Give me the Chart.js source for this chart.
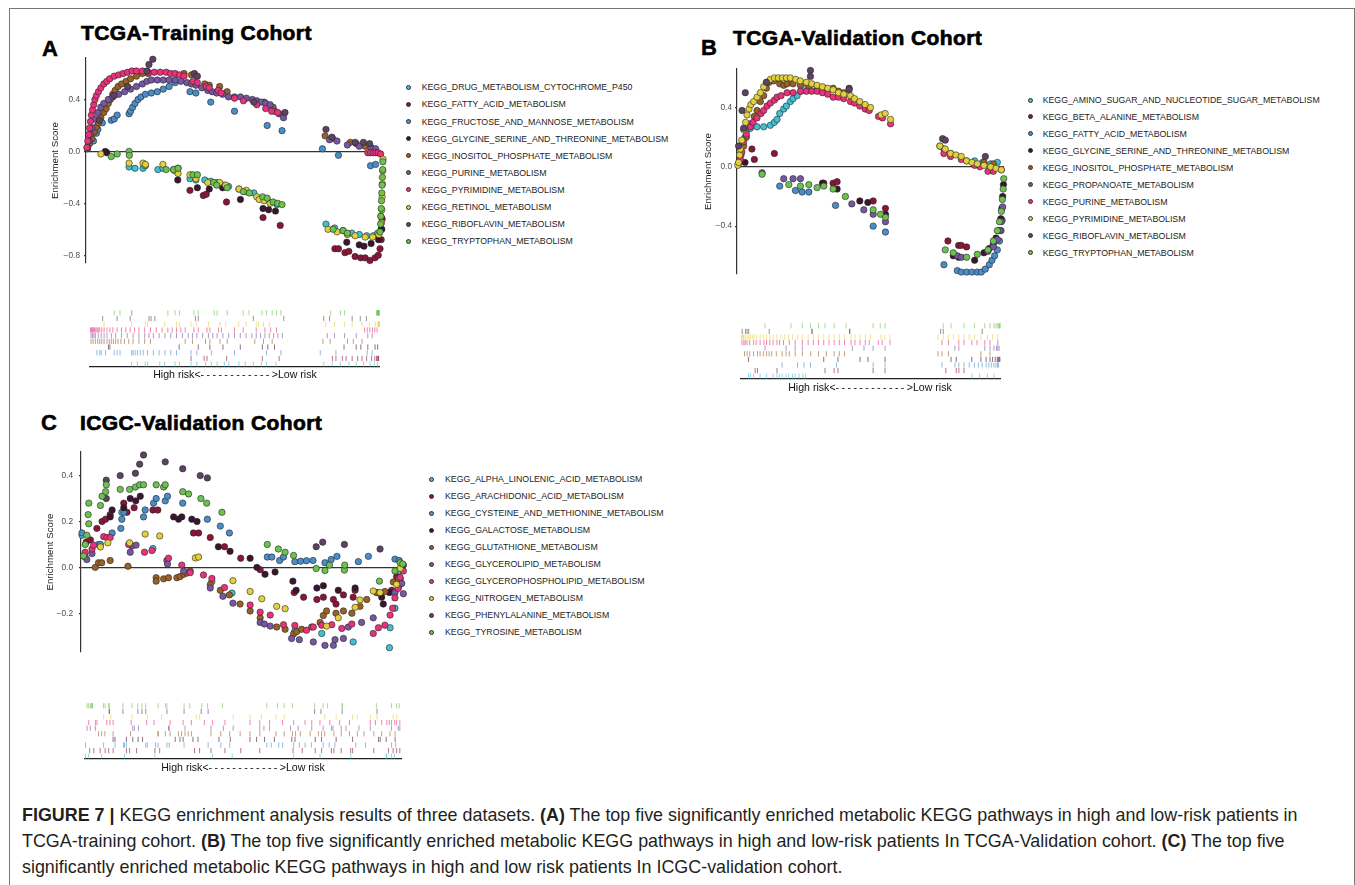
<!DOCTYPE html>
<html>
<head>
<meta charset="utf-8">
<title>Figure 7 - KEGG enrichment</title>
<script src="https://cdn.jsdelivr.net/npm/chart.js@4.4.1/dist/chart.umd.min.js"></script>
<style>
  body { margin: 0; background: #fff; font-family: "Liberation Sans", Arial, sans-serif; }
  #page { position: relative; width: 1355px; height: 885px; overflow: hidden; background: #fff; }
  #frame { position: absolute; left: 9px; top: 8px; width: 1346px; height: 900px; border: 1px solid #777; box-sizing: border-box; }
  canvas { position: absolute; }
  .tag { position: absolute; font-weight: bold; font-size: 22px; line-height: 22px; -webkit-text-stroke: 0.5px #000; }
  .ttl { position: absolute; font-weight: bold; font-size: 21px; line-height: 21px; letter-spacing: 0.4px; -webkit-text-stroke: 0.7px #000; white-space: nowrap; }
  .lg { position: absolute; font-size: 8.75px; line-height: 10px; height: 10px; color: #222; white-space: nowrap; }
  .dot { position: absolute; width: 5px; height: 5px; border-radius: 50%; border: 0.6px solid #333; box-sizing: border-box; }
  .risk { position: absolute; font-size: 10.6px; line-height: 12px; color: #111; white-space: nowrap; transform: translateX(-50%); }
  .risk span { letter-spacing: 2.4px; }
  #cap { position: absolute; left: 22px; top: 802px; font-size: 17.9px; line-height: 26px; color: #231f20; white-space: nowrap; }
</style>
</head>
<body>
<div id="page">
  <div id="frame"></div>

  <div class="tag" style="left:42px; top:38px;">A</div>
  <div class="ttl" style="left:81px; top:22px;">TCGA-Training Cohort</div>
  <canvas id="scA" width="343" height="223" style="left:46px; top:49px;"></canvas>
  <canvas id="rugA" width="297" height="80" style="left:86px; top:305px;"></canvas>
  <div class="risk" style="left:235px; top:368px;">High risk&lt;<span>------------</span>&gt;Low risk</div>
  <div id="legA"></div>

  <div class="tag" style="left:701px; top:37px;">B</div>
  <div class="ttl" style="left:733px; top:27px;">TCGA-Validation Cohort</div>
  <canvas id="scB" width="311" height="221" style="left:699px; top:61px;"></canvas>
  <canvas id="rugB" width="267" height="79" style="left:737px; top:318px;"></canvas>
  <div class="risk" style="left:870px; top:381px;">High risk&lt;<span>------------</span>&gt;Low risk</div>
  <div id="legB"></div>

  <div class="tag" style="left:41px; top:412px;">C</div>
  <div class="ttl" style="left:80px; top:412px;">ICGC-Validation Cohort</div>
  <canvas id="scC" width="370" height="222" style="left:41px; top:441px;"></canvas>
  <canvas id="rugC" width="324" height="79" style="left:81px; top:698px;"></canvas>
  <div class="risk" style="left:243px; top:761px;">High risk&lt;<span>------------</span>&gt;Low risk</div>
  <div id="legC"></div>

  <div id="cap">
    <b>FIGURE 7 |</b> KEGG enrichment analysis results of three datasets. <b>(A)</b> The top five significantly enriched metabolic KEGG pathways in high and low-risk patients in<br>
    TCGA-training cohort. <b>(B)</b> The top five significantly enriched metabolic KEGG pathways in high and low-risk patients In TCGA-Validation cohort. <b>(C)</b> The top five<br>
    significantly enriched metabolic KEGG pathways in high and low risk patients In ICGC-validation cohort.
  </div>
</div>

<script>
// colours shared by all three panels (ggplot order of the pathway names)
const palette = ['#3fc1d3', '#8b1538', '#4a8dc8', '#3a1430', '#9a6127', '#7757a3', '#e93279', '#e2d13c', '#5b4361', '#6bc24d'];

// ---- panel A: TCGA-Training ----
const namesA = ['KEGG_DRUG_METABOLISM_CYTOCHROME_P450', 'KEGG_FATTY_ACID_METABOLISM', 'KEGG_FRUCTOSE_AND_MANNOSE_METABOLISM',
  'KEGG_GLYCINE_SERINE_AND_THREONINE_METABOLISM', 'KEGG_INOSITOL_PHOSPHATE_METABOLISM', 'KEGG_PURINE_METABOLISM',
  'KEGG_PYRIMIDINE_METABOLISM', 'KEGG_RETINOL_METABOLISM', 'KEGG_RIBOFLAVIN_METABOLISM', 'KEGG_TRYPTOPHAN_METABOLISM'];
const ticksA = [0.4, 0.0, -0.4, -0.8];
// running enrichment score, [rank position (0-100), score]
const scoresA = [
  [[14.5,-0.12],[16.5,-0.13],[19.2,-0.13],[20,-0.11],[24.2,-0.14],[25.9,-0.13],[29.5,-0.14],[31,-0.13],[35,-0.21],[37,-0.22],[40,-0.22],[42,-0.23],[44,-0.24],[46.5,-0.26],[48,-0.27],[51.5,-0.29],[53.7,-0.31],[56.5,-0.32],[59.3,-0.36],[61,-0.37],[64.3,-0.41],[80.8,-0.56],[83.7,-0.59],[86.5,-0.61],[89.5,-0.63],[92,-0.64],[94.5,-0.65],[96.8,-0.65],[98.2,-0.63],[99.3,-0.5]],
  [[35,-0.3],[39.5,-0.34],[40.5,-0.33],[47.3,-0.39],[59.6,-0.51],[65.4,-0.57],[83.8,-0.75],[85,-0.75],[87.2,-0.78],[88.5,-0.77],[90.6,-0.81],[92.5,-0.82],[94,-0.82],[95.6,-0.84],[97.3,-0.82],[98.4,-0.8],[99,-0.75],[99.4,-0.68],[99.6,-0.6],[99.7,-0.52]],
  [[2.5,0.08],[3.5,0.14],[4,0.17],[5.5,0.22],[8.5,0.24],[9.5,0.25],[10.5,0.28],[14.5,0.29],[15,0.31],[15.7,0.34],[16.5,0.37],[17.5,0.4],[18.5,0.42],[20,0.44],[22,0.45],[24,0.46],[26,0.48],[28,0.5],[30,0.53],[35,0.46],[37,0.45],[42,0.38],[50,0.31],[61,0.2],[66,0.16],[79.6,0.02],[85,-0.03],[95.8,-0.11],[97.5,-0.1]],
  [[6.5,0.0],[7,-0.01],[30.9,-0.22],[37.5,-0.28],[41.5,-0.29],[46,-0.28],[52,-0.37],[59.6,-0.44],[61.5,-0.45],[63.8,-0.46],[87.8,-0.7],[92,-0.72],[93.6,-0.73],[96,-0.71],[98.5,-0.68],[99.4,-0.6]],
  [[0.5,0.02],[1.2,0.06],[2,0.1],[2.8,0.15],[3.5,0.19],[4.2,0.22],[5,0.26],[6,0.3],[6.8,0.33],[7.5,0.37],[8.2,0.4],[9,0.44],[9.8,0.47],[10.8,0.5],[12,0.52],[13.5,0.54],[15,0.56],[17,0.58],[19,0.6],[21,0.6],[33,0.6],[35.5,0.59],[40,0.52],[41.5,0.51],[45,0.5],[47.5,0.46],[57,0.38],[60,0.38],[63,0.34],[80.5,0.12],[83,0.1],[89,0.07],[91,0.06],[94,0.04]],
  [[0.5,0.03],[1,0.08],[1.5,0.13],[2,0.18],[3,0.25],[4,0.3],[5,0.34],[6,0.37],[7.5,0.4],[9,0.42],[11,0.44],[13,0.46],[15,0.48],[17,0.5],[19,0.52],[20.5,0.54],[22,0.55],[24,0.55],[26,0.55],[28,0.55],[30,0.55],[32,0.54],[34,0.53],[35.5,0.52],[37,0.51],[39,0.49],[41,0.47],[42.5,0.46],[44,0.45],[46,0.44],[48,0.42],[50,0.42],[52,0.42],[54,0.41],[56,0.4],[57.5,0.39],[59,0.38],[60.5,0.37],[62,0.36],[63.5,0.31],[65,0.29],[66.5,0.26],[82,0.09],[84.5,0.08],[88,0.05],[92,0.04],[96,0.03],[97.5,0.02]],
  [[0.3,0.03],[0.6,0.08],[0.9,0.13],[1.2,0.18],[1.5,0.23],[1.8,0.28],[2.2,0.32],[2.6,0.36],[3,0.4],[3.5,0.43],[4.2,0.46],[5,0.49],[6,0.52],[7,0.54],[8,0.56],[9.5,0.58],[11,0.59],[12.5,0.6],[14,0.61],[15.5,0.62],[17,0.62],[19,0.62],[21,0.61],[23,0.61],[25,0.61],[27,0.61],[28.5,0.6],[30,0.6],[31.5,0.59],[33,0.58],[36,0.54],[37.5,0.53],[40.5,0.5],[41.5,0.49],[44.5,0.47],[45.5,0.45],[50,0.41],[53,0.39],[57.5,0.36],[60.5,0.33],[62.5,0.31],[64.5,0.3],[94.9,-0.01],[95.8,-0.01],[96.7,-0.01],[97.6,-0.01],[98.4,-0.01],[99.2,-0.02]],
  [[5,-0.02],[14.5,-0.09],[19.2,-0.09],[20,-0.1],[25.9,-0.1],[30,-0.15],[31,-0.17],[35,-0.18],[37,-0.21],[41,-0.24],[45,-0.24],[47,-0.26],[51.5,-0.29],[54,-0.3],[57.5,-0.35],[58.3,-0.37],[60,-0.38],[62,-0.4],[81.5,-0.6],[84.5,-0.62],[88,-0.64],[90.6,-0.65],[94,-0.66],[96.5,-0.66],[98.6,-0.64],[99.5,-0.55],[99.6,-0.45],[99.7,-0.35],[99.8,-0.25],[99.9,-0.15],[100,-0.06]],
  [[4.5,0.24],[9.5,0.43],[14,0.5],[20.5,0.62],[21.2,0.67],[22.5,0.71],[36.5,0.6],[37.5,0.58],[56.5,0.38],[67,0.3],[80.8,0.17],[82.8,0.11],[90.6,0.07],[93.4,0.07],[95.5,0.06]],
  [[8.5,-0.04],[10.5,-0.02],[14.5,0.0],[14.6,-0.03],[27,-0.14],[29.5,-0.14],[31,-0.13],[36,-0.18],[37.5,-0.18],[43,-0.24],[44,-0.26],[47.5,-0.28],[53,-0.31],[55,-0.32],[59.5,-0.35],[61,-0.36],[63,-0.39],[64.5,-0.4],[66,-0.41],[83.2,-0.6],[86.6,-0.61],[88,-0.63],[99,-0.62],[99.2,-0.56],[99.3,-0.5],[99.4,-0.44],[99.5,-0.38],[99.6,-0.32],[99.7,-0.26],[99.8,-0.2],[99.9,-0.14],[99.95,-0.08]]
];

// ---- panel B: TCGA-Validation ----
const namesB = ['KEGG_AMINO_SUGAR_AND_NUCLEOTIDE_SUGAR_METABOLISM', 'KEGG_BETA_ALANINE_METABOLISM', 'KEGG_FATTY_ACID_METABOLISM',
  'KEGG_GLYCINE_SERINE_AND_THREONINE_METABOLISM', 'KEGG_INOSITOL_PHOSPHATE_METABOLISM', 'KEGG_PROPANOATE_METABOLISM',
  'KEGG_PURINE_METABOLISM', 'KEGG_PYRIMIDINE_METABOLISM', 'KEGG_RIBOFLAVIN_METABOLISM', 'KEGG_TRYPTOPHAN_METABOLISM'];
const ticksB = [0.4, 0.0, -0.4];
const scoresB = [
  [[3,0.2],[3.75,0.25],[5,0.26],[7.5,0.27],[10,0.27],[12.5,0.28],[14,0.3],[15,0.32],[16,0.36],[17.5,0.39],[18.5,0.41],[20,0.44],[21,0.46],[22.5,0.48],[24,0.51],[25,0.53],[89,0.04],[92,0.03],[95,0.02],[97.5,0.03]],
  [[5.6,0.12],[6.5,0.05],[14,0.09],[32.5,-0.11],[36,-0.11],[37.5,-0.1],[51,-0.23],[55.6,-0.28],[79,-0.5],[83,-0.53],[84,-0.53],[86,-0.54]],
  [[16,-0.13],[21.9,-0.16],[24.4,-0.17],[26.9,-0.17],[36.9,-0.26],[51,-0.4],[55.6,-0.44],[77.5,-0.66],[82.5,-0.7],[84,-0.71],[86,-0.71],[88,-0.71],[90,-0.71],[91.5,-0.71],[93,-0.69],[94.5,-0.66],[95.5,-0.63],[96.5,-0.6],[97.5,-0.56],[98.3,-0.5],[98.9,-0.43],[99.3,-0.36]],
  [[3,0.03],[32,-0.11],[37.5,-0.15],[46,-0.23],[49,-0.24],[55.6,-0.32],[81,-0.6],[83,-0.61],[89,-0.63],[92.5,-0.58],[94.5,-0.55],[96,-0.52],[97,-0.48],[98,-0.43],[98.8,-0.35],[99.2,-0.28],[99.5,-0.2],[99.8,-0.12]],
  [[1.5,0.08],[2.5,0.14],[3.5,0.2],[5,0.29],[6.5,0.34],[7.5,0.38],[8.75,0.44],[10,0.48],[11,0.53],[12,0.57],[13.75,0.58],[16,0.56],[17.5,0.55],[18.75,0.56],[21,0.56],[23.75,0.55],[27,0.54],[30,0.54],[33,0.53],[36,0.53],[38,0.51],[40,0.5],[76,0.14],[77.5,0.12],[80,0.09],[92.5,0.03],[96,0.02]],
  [[9.4,-0.04],[17.5,-0.08],[21,-0.08],[23.75,-0.08],[43,-0.25],[47.5,-0.29],[51,-0.32],[55.6,-0.37],[82.5,-0.6],[84,-0.61],[94,-0.57],[96,-0.54],[97.5,-0.49],[98.5,-0.43],[99,-0.37],[99.5,-0.27]],
  [[0.5,0.02],[1.25,0.05],[1.8,0.1],[2.5,0.17],[3.5,0.22],[5,0.27],[6,0.3],[7.5,0.33],[9,0.36],[10,0.38],[11.25,0.41],[12.5,0.43],[14,0.45],[15,0.47],[16.5,0.48],[18.75,0.5],[21,0.5],[23.75,0.51],[26,0.51],[28,0.51],[30,0.51],[32,0.5],[34,0.49],[36,0.47],[38,0.47],[40,0.46],[42.5,0.44],[44,0.43],[46,0.41],[48,0.39],[49.5,0.38],[53,0.34],[54.5,0.33],[57.5,0.29],[77.5,0.09],[80,0.07],[84,0.05],[86,0.04],[89,0.01],[91,0.0],[94,-0.03],[96,-0.03],[99,-0.02]],
  [[0.3,0.01],[0.6,0.03],[1,0.08],[1.25,0.12],[1.8,0.18],[2.5,0.25],[3.2,0.3],[3.75,0.35],[4.5,0.39],[5.2,0.42],[6.25,0.44],[7.5,0.47],[8.75,0.5],[10,0.54],[11.25,0.57],[12.5,0.59],[14,0.6],[15.5,0.6],[17,0.6],[18.5,0.6],[20,0.6],[22,0.59],[23.7,0.58],[26,0.57],[28,0.56],[30,0.55],[32,0.54],[34,0.53],[36,0.52],[38,0.5],[40,0.49],[42.5,0.48],[44,0.46],[46,0.44],[48,0.42],[50,0.4],[54,0.35],[55.5,0.36],[57.5,0.32],[76,0.14],[78,0.12],[80,0.09],[82,0.08],[84,0.07],[86,0.04],[88,0.03],[90,0.02],[92.5,0.01],[95,0.0],[97,-0.01],[99,-0.02]],
  [[0.6,0.14],[1.9,0.38],[2.5,0.26],[3.1,0.5],[11,0.57],[27.5,0.65],[27.5,0.61],[42,0.53],[42,0.52],[77,0.19],[78,0.18],[93,0.07]],
  [[9.4,-0.05],[19.4,-0.12],[23.75,-0.13],[26.9,-0.12],[30,-0.14],[32.5,-0.13],[36,-0.15],[40.6,-0.2],[51,-0.29],[53.75,-0.32],[55.6,-0.34],[78,-0.56],[81,-0.58],[86,-0.61],[90,-0.59],[94,-0.56],[96,-0.5],[97.5,-0.43],[98.3,-0.37],[99,-0.3],[99.4,-0.22],[99.7,-0.15],[99.9,-0.08]]
];

// ---- panel C: ICGC-Validation ----
const namesC = ['KEGG_ALPHA_LINOLENIC_ACID_METABOLISM', 'KEGG_ARACHIDONIC_ACID_METABOLISM', 'KEGG_CYSTEINE_AND_METHIONINE_METABOLISM',
  'KEGG_GALACTOSE_METABOLISM', 'KEGG_GLUTATHIONE_METABOLISM', 'KEGG_GLYCEROLIPID_METABOLISM',
  'KEGG_GLYCEROPHOSPHOLIPID_METABOLISM', 'KEGG_NITROGEN_METABOLISM', 'KEGG_PHENYLALANINE_METABOLISM', 'KEGG_TYROSINE_METABOLISM'];
const ticksC = [0.4, 0.2, 0.0, -0.2];
const scoresC = [
  [[0.3,0.14],[1.3,0.045],[5.4,0.1],[12.6,0.24],[22.2,0.082],[40.4,-0.062],[46.6,-0.112],[66,-0.277],[74.3,-0.288],[84,-0.325],[95.4,-0.263],[95.2,-0.35],[96.9,-0.178],[97.8,-0.02]],
  [[1.6,0.11],[2.9,0.12],[4.9,0.17],[6.5,0.2],[7.6,0.21],[9,0.23],[13.2,0.28],[14.2,0.24],[16.4,0.26],[22.2,0.25],[23.7,0.25],[34.7,0.15],[36.3,0.15],[39.9,0.13],[44.3,0.09],[49.3,0.04],[55.3,-0.01],[65.8,-0.11],[68.7,-0.13],[72.8,-0.14],[74.8,-0.13],[77.9,-0.14],[78.7,-0.16],[81,-0.12],[84,-0.13],[84.6,-0.1],[91.3,-0.11],[95.9,-0.1],[97.4,-0.04],[98.5,-0.05],[99.5,0.01]],
  [[0.3,0.15],[6,0.1],[9.6,0.15],[12.3,0.17],[12.6,0.21],[13.2,0.24],[19.3,0.22],[19.8,0.25],[22.4,0.28],[23.2,0.3],[26,0.29],[26.7,0.31],[31.4,0.28],[39,0.21],[43,0.18],[45.8,0.15],[57.5,0.045],[58.9,0.045],[61.3,0.03],[62.5,0.045],[66,0.025],[67.8,0.027],[69.6,0.029],[71.6,0.03],[75.3,0.02],[77.2,0.034],[79,0.048],[85.6,0.025],[88.7,0.048],[96.9,0.036],[98.2,0.03]],
  [[9,0.22],[9.6,0.25],[13.2,0.26],[15.2,0.3],[16.9,0.29],[18.3,0.31],[28.6,0.22],[30.1,0.21],[31.1,0.22],[34.2,0.21],[35.8,0.2],[42.4,0.09],[46,0.07],[52.2,0.04],[54.3,0.0],[56.8,-0.03],[59.9,-0.02],[65.4,-0.06],[66.4,-0.1],[72.8,-0.09],[74.8,-0.08],[79.4,-0.1],[84.6,-0.09],[92.8,-0.13],[93.3,-0.16],[95.2,-0.11],[98,-0.085]],
  [[4.4,0.0],[5.4,0.02],[6.4,0.02],[9,0.03],[14.5,0.005],[23.2,-0.045],[23.2,-0.06],[25.5,-0.05],[27,-0.045],[29.6,-0.045],[30.6,-0.04],[31.7,-0.03],[32.7,-0.025],[33.7,-0.016],[39.9,-0.075],[43,-0.1],[45.8,-0.12],[49.1,-0.16],[52.2,-0.19],[55.3,-0.22],[60.4,-0.26],[63,-0.27],[65.6,-0.29],[66.6,-0.28],[68.1,-0.27],[71.2,-0.26],[73.8,-0.24],[74.8,-0.21],[75.8,-0.19],[78.7,-0.2],[81,-0.19],[83.6,-0.2],[86.1,-0.17],[88.2,-0.14],[91.3,-0.11],[93.8,-0.105],[96.4,-0.064],[98,-0.05]],
  [[0.8,0.05],[1.8,0.034],[3.4,0.06],[15.2,0.066],[15.7,0.093],[17,0.097],[26.5,0.03],[26.7,0.015],[31.7,-0.016],[39.9,-0.09],[43.8,-0.126],[46.9,-0.156],[55.3,-0.24],[56.6,-0.247],[58.4,-0.256],[65,-0.31],[67.4,-0.315],[71.7,-0.325],[75.3,-0.34],[77.9,-0.34],[78.4,-0.315],[81,-0.31],[82.5,-0.26],[86.6,-0.24],[90.2,-0.22],[96.9,-0.11],[99,-0.07],[99.5,-0.115]],
  [[1.3,0.066],[3.4,0.08],[3.9,0.097],[7,0.134],[8,0.13],[9,0.13],[14.7,0.1],[19.6,0.066],[21.9,0.073],[27,0.04],[31.1,0.01],[33.7,-0.023],[37.8,-0.033],[40.4,-0.048],[44.3,-0.088],[52.2,-0.164],[55.3,-0.195],[58.4,-0.208],[62.5,-0.25],[66,-0.253],[69.6,-0.274],[71.7,-0.26],[74.3,-0.252],[77.4,-0.25],[80.5,-0.266],[83.6,-0.247],[90.2,-0.288],[91.8,-0.263],[93.8,-0.252],[95.4,-0.208],[96.2,-0.178],[96.9,-0.133],[97.9,-0.092],[98.5,-0.044],[99.5,-0.016]],
  [[6,0.089],[8.3,0.107],[15,0.107],[19.8,0.145],[24.3,0.137],[35.3,0.041],[36.3,0.045],[46.9,-0.058],[52.2,-0.105],[55.8,-0.137],[60.4,-0.17],[63,-0.18],[75.8,-0.256],[79.4,-0.22],[84.6,-0.174],[86.1,-0.142],[90.2,-0.103],[92.3,-0.11],[97.4,-0.074],[98.5,-0.005]],
  [[7.8,0.38],[7.8,0.3],[12.1,0.4],[16.8,0.41],[18.1,0.45],[19.3,0.49],[26,0.46],[31.4,0.43],[36.8,0.4],[39,0.39],[72.6,0.09],[74.6,0.11],[81.3,0.1],[92.3,0.08]],
  [[0.8,0.05],[1.3,0.1],[1.8,0.14],[2.2,0.23],[2.4,0.28],[2.4,0.19],[6,0.27],[6.5,0.31],[7.6,0.33],[7.8,0.36],[12.1,0.34],[15,0.34],[16.8,0.35],[18.1,0.36],[19.3,0.36],[23.2,0.36],[25.5,0.35],[26,0.36],[31.4,0.33],[33.2,0.32],[37,0.3],[38.8,0.28],[43.5,0.24],[57.5,0.1],[60.9,0.08],[63,0.066],[65.6,0.052],[72.6,-0.005],[75.3,-0.014],[76.7,0.01],[81.3,-0.012],[81.4,0.01],[92.1,-0.06],[96.9,-0.016],[98.5,0.02],[99.3,0.015]]
];

Chart.defaults.font.family = '"Liberation Sans", Arial, sans-serif';

function fade(hex, a) {
  const n = parseInt(hex.slice(1), 16);
  return 'rgba(' + (n >> 16) + ',' + ((n >> 8) & 255) + ',' + (n & 255) + ',' + a + ')';
}

function scorePlot(id, names, series, yMin, yMax, yTicks, axisW, tickPad) {
  new Chart(document.getElementById(id), {
    type: 'scatter',
    data: {
      datasets: series.map((pts, i) => ({
        label: names[i],
        data: pts.map(p => ({ x: p[0], y: p[1] })),
        pointBackgroundColor: palette[i],
        pointBorderColor: '#262626',
        pointBorderWidth: 0.6,
        pointRadius: 3.2,
        pointHoverRadius: 3.2,
        order: series.length - i,
        clip: false
      }))
    },
    options: {
      responsive: false,
      animation: false,
      layout: { padding: { left: 4, top: 6, right: 6, bottom: 4 } },
      plugins: { legend: { display: false }, tooltip: { enabled: false } },
      scales: {
        x: { type: 'linear', min: 0, max: 100, display: false },
        y: {
          min: yMin, max: yMax,
          afterBuildTicks: s => { s.ticks = yTicks.map(v => ({ value: v })); },
          afterFit: s => { s.width = axisW; },
          ticks: {
            padding: tickPad, color: '#4d4d4d', font: { size: 8.3 },
            callback: v => v.toFixed(1).replace('-', '\u2212')
          },
          grid: {
            color: c => (c.tick && c.tick.value === 0) ? '#333' : 'rgba(0,0,0,0)',
            lineWidth: 1.2, drawTicks: true, tickLength: 2, tickColor: '#333'
          },
          border: { display: true, color: '#333', width: 1.2 },
          title: { display: true, text: 'Enrichment Score', color: '#1a1a1a', font: { size: 9.7 }, padding: 0 }
        }
      }
    }
  });
}

// gene-hit rug under each panel, one row per pathway (first pathway at the bottom)
function rugPlot(id, series) {
  new Chart(document.getElementById(id), {
    type: 'scatter',
    data: {
      datasets: series.map((pts, i) => ({
        data: pts.map(p => ({ x: p[0], y: i })),
        pointStyle: 'line',
        pointRotation: 90,
        pointRadius: 2.6,
        pointHoverRadius: 2.6,
        pointBorderWidth: 1,
        pointBorderColor: fade(palette[i], 0.6),
        clip: false
      }))
    },
    options: {
      responsive: false,
      animation: false,
      layout: { padding: { left: 0, right: 0, top: 5, bottom: 0 } },
      plugins: { legend: { display: false }, tooltip: { enabled: false } },
      scales: {
        x: {
          type: 'linear', min: 0, max: 100,
          afterFit: s => { s.height = 18; },
          ticks: { display: false },
          grid: { display: false, drawTicks: false },
          border: { display: true, color: '#222', width: 1.2 }
        },
        y: { min: -0.5, max: series.length - 0.5, display: false }
      }
    }
  });
}

function legend(holder, names, dotX, textX, y0, step) {
  const el = document.getElementById(holder);
  names.forEach((n, i) => {
    const y = y0 + i * step;
    const d = document.createElement('div');
    d.className = 'dot';
    d.style.left = (dotX - 2.5) + 'px';
    d.style.top = (y - 2.5) + 'px';
    d.style.background = palette[i];
    el.appendChild(d);
    const t = document.createElement('div');
    t.className = 'lg';
    t.style.left = textX + 'px';
    t.style.top = (y - 5) + 'px';
    t.textContent = n;
    el.appendChild(t);
  });
}

scorePlot('scA', namesA, scoresA, -0.86, 0.72, ticksA, 36, 4);
scorePlot('scB', namesB, scoresB, -0.723, 0.66, ticksB, 34, 3);
scorePlot('scC', namesC, scoresC, -0.369, 0.503, ticksC, 36, 6);
rugPlot('rugA', scoresA);
rugPlot('rugB', scoresB);
rugPlot('rugC', scoresC);
legend('legA', namesA, 408.3, 421.7, 87.3, 17.1);
legend('legB', namesB, 1030, 1042.7, 100, 16.97);
legend('legC', namesC, 431.7, 445, 479, 17.04);
</script>
</body>
</html>
